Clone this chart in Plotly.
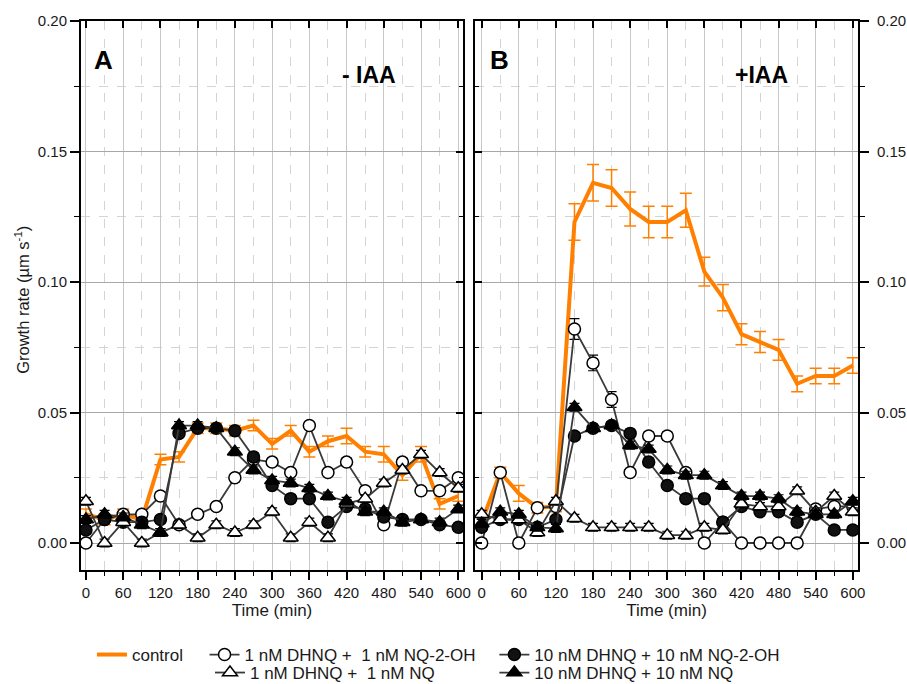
import plotly.graph_objects as go

# ---------------- data ----------------
time_min = [0, 30, 60, 90, 120, 150, 180, 210, 240, 270, 300, 330, 360, 390, 420, 450, 480, 510, 540, 570, 600]
x_tick_vals = [0, 60, 120, 180, 240, 300, 360, 420, 480, 540, 600]
y_tick_vals = [0.0, 0.05, 0.10, 0.15, 0.20]

# Panel A (- IAA)
ctrl_A = [0.011, 0.009, 0.011, 0.009, 0.032, 0.033, 0.044, 0.044, 0.043, 0.045, 0.038, 0.043, 0.035, 0.039, 0.041, 0.035, 0.034, 0.026, 0.034, 0.015, 0.018]
ctrl_A_err = [0.002, 0.002, 0.002, 0.002, 0.002, 0.002, 0.002, 0.002, 0.002, 0.002, 0.002, 0.002, 0.002, 0.002, 0.003, 0.002, 0.003, 0.002, 0.003, 0.002, 0.002]
c1_A = [0.000, 0.009, 0.011, 0.011, 0.018, 0.007, 0.011, 0.014, 0.025, 0.032, 0.031, 0.027, 0.045, 0.027, 0.031, 0.020, 0.007, 0.031, 0.020, 0.020, 0.025]
c10_A = [0.005, 0.009, 0.008, 0.008, 0.009, 0.042, 0.044, 0.044, 0.043, 0.033, 0.022, 0.017, 0.017, 0.008, 0.014, 0.013, 0.010, 0.009, 0.009, 0.007, 0.006]
t1_A = [0.016, 0.000, 0.008, 0.000, 0.004, 0.007, 0.002, 0.007, 0.004, 0.007, 0.012, 0.002, 0.008, 0.002, 0.015, 0.017, 0.023, 0.028, 0.034, 0.027, 0.021]
t10_A = [0.009, 0.011, 0.010, 0.007, 0.004, 0.045, 0.045, 0.044, 0.035, 0.028, 0.024, 0.023, 0.021, 0.018, 0.016, 0.012, 0.012, 0.008, 0.009, 0.008, 0.013]

# Panel B (+IAA)
ctrl_B = [0.008, 0.027, 0.019, 0.0135, 0.014, 0.123, 0.138, 0.136, 0.128, 0.123, 0.123, 0.1275, 0.104, 0.094, 0.080, 0.077, 0.074, 0.061, 0.064, 0.064, 0.068]
ctrl_B_err = [0.002, 0.002, 0.003, 0.002, 0.002, 0.007, 0.007, 0.007, 0.0065, 0.006, 0.006, 0.0065, 0.0055, 0.005, 0.004, 0.004, 0.004, 0.003, 0.003, 0.003, 0.003]
c1_B = [0.000, 0.027, 0.000, 0.0135, 0.014, 0.082, 0.069, 0.055, 0.027, 0.041, 0.041, 0.027, 0.000, 0.008, 0.000, 0.000, 0.000, 0.000, 0.013, 0.014, 0.014]
c1_B_err = [0.0015, 0.0015, 0.0015, 0.0015, 0.0015, 0.004, 0.003, 0.003, 0.0015, 0.0015, 0.0015, 0.0015, 0.0015, 0.0015, 0.0015, 0.0015, 0.0015, 0.0015, 0.0015, 0.0015, 0.0015]
c10_B = [0.006, 0.009, 0.009, 0.006, 0.009, 0.041, 0.044, 0.045, 0.042, 0.031, 0.022, 0.017, 0.017, 0.008, 0.014, 0.012, 0.012, 0.008, 0.011, 0.005, 0.005]
t1_B = [0.011, 0.009, 0.009, 0.004, 0.016, 0.0095, 0.006, 0.006, 0.006, 0.006, 0.003, 0.003, 0.006, 0.005, 0.015, 0.014, 0.014, 0.020, 0.012, 0.018, 0.012]
t10_B = [0.0075, 0.012, 0.011, 0.006, 0.0056, 0.052, 0.044, 0.045, 0.0375, 0.036, 0.028, 0.026, 0.026, 0.022, 0.018, 0.018, 0.017, 0.012, 0.011, 0.011, 0.016]
marker_err = [0.0015, 0.0015, 0.0015, 0.0015, 0.0015, 0.0015, 0.0015, 0.0015, 0.0015, 0.0015, 0.0015, 0.0015, 0.0015, 0.0015, 0.0015, 0.0015, 0.0015, 0.0015, 0.0015, 0.0015, 0.0015]

names = {
    "ctrl": "control",
    "c1": "1 nM DHNQ +\u00a0 1 nM NQ-2-OH",
    "c10": "10 nM DHNQ + 10 nM NQ-2-OH",
    "t1": "1 nM DHNQ +\u00a0 1 nM NQ",
    "t10": "10 nM DHNQ + 10 nM NQ",
}

# ---------------- style ----------------
FONT = "Arial, Liberation Sans, sans-serif"
TXT = "#1a1a1a"
ORANGE = "#ff8000"
LINEGRAY = "#3a3a3a"
X_RANGE_A = [-8.0, 607.6]
X_RANGE_B = [-10.8, 608.4]
Y_RANGE = [-0.01034, 0.2]

fig = go.Figure()


def add_panel(xa, ya, ctrl, ctrl_err, c1, c1_err, c10, t1, t10, show):
    fig.add_trace(go.Scatter(
        x=time_min, y=ctrl, mode="lines", name=names["ctrl"],
        line=dict(color=ORANGE, width=4),
        error_y=dict(type="data", array=ctrl_err, color=ORANGE, thickness=1.5, width=6),
        xaxis=xa, yaxis=ya, showlegend=show, legend="legend"))
    specs = [
        ("c1", c1, c1_err, dict(symbol="circle", color="white"), "legend2"),
        ("c10", c10, marker_err, dict(symbol="circle", color="#111111"), "legend3"),
        ("t1", t1, marker_err, dict(symbol="triangle-up", color="white"), "legend4"),
        ("t10", t10, marker_err, dict(symbol="triangle-up", color="black"), "legend5"),
    ]
    for key, vals, err, mk, lg in specs:
        size = 12 if mk["symbol"] == "circle" else 13
        fig.add_trace(go.Scatter(
            x=time_min, y=vals, mode="lines+markers", name=names[key],
            line=dict(color=LINEGRAY, width=1.8),
            marker=dict(size=size, line=dict(color="black", width=1.5), **mk),
            error_y=dict(type="data", array=err, color="black", thickness=1.2, width=5),
            xaxis=xa, yaxis=ya, showlegend=show, legend=lg))


add_panel("x", "y", ctrl_A, ctrl_A_err, c1_A, marker_err, c10_A, t1_A, t10_A, True)
add_panel("x2", "y2", ctrl_B, ctrl_B_err, c1_B, c1_B_err, c10_B, t1_B, t10_B, False)

# empty traces to activate the overlay (mirror-tick) axes
fig.add_trace(go.Scatter(x=[], y=[], xaxis="x3", yaxis="y3", showlegend=False, hoverinfo="skip"))
fig.add_trace(go.Scatter(x=[], y=[], xaxis="x4", yaxis="y4", showlegend=False, hoverinfo="skip"))

tickfont = dict(family=FONT, size=15, color=TXT)


def base_x(dom, rng, anchor):
    return dict(
        domain=dom, range=rng, anchor=anchor, tickmode="array", tickvals=x_tick_vals,
        ticks="outside", ticklen=8, tickwidth=1.5, tickcolor="black",
        showline=True, linecolor="black", linewidth=2, mirror=True,
        showgrid=True, gridcolor="#c8c8c8", gridwidth=1, zeroline=False,
        tickfont=tickfont,
        title=dict(text="Time (min)", font=dict(family=FONT, size=17, color=TXT), standoff=0),
        minor=dict(dtick=30, tick0=0, ticks="outside", ticklen=4, tickwidth=1.2, tickcolor="black",
                   showgrid=True, gridcolor="#d4d4d4", griddash="dash", gridwidth=1),
    )


def base_y(rng, anchor, side, standoff):
    return dict(
        range=rng, anchor=anchor, side=side, tickmode="array", tickvals=y_tick_vals,
        tickformat=".2f", ticks="outside", ticklen=9, tickwidth=1.5, tickcolor="black",
        showline=True, linecolor="black", linewidth=2, mirror=True,
        showgrid=True, gridcolor="#a8a8a8", gridwidth=1, zeroline=False,
        tickfont=tickfont, domain=[0, 1], ticklabelstandoff=standoff,
        minor=dict(dtick=0.025, tick0=0, ticks="outside", ticklen=5, tickwidth=1.2, tickcolor="black",
                   showgrid=True, gridcolor="#d4d4d4", griddash="dash", gridwidth=1),
    )


def overlay_x(over, rng, anchor):
    return dict(overlaying=over, anchor=anchor, side="top", range=rng, tickmode="array",
                tickvals=x_tick_vals, ticks="inside", ticklen=7, tickwidth=1.5, tickcolor="black",
                showticklabels=False, showgrid=False, showline=False, zeroline=False)


def overlay_y(over, anchor, side):
    return dict(overlaying=over, anchor=anchor, side=side, range=Y_RANGE, tickmode="array",
                tickvals=y_tick_vals, ticks="inside", ticklen=7, tickwidth=1.5, tickcolor="black",
                showticklabels=False, showgrid=False, showline=False, zeroline=False,
                minor=dict(dtick=0.025, tick0=0, ticks="inside", ticklen=4, tickwidth=1.2,
                           tickcolor="black", showgrid=False))


legend_font = dict(family=FONT, size=17, color=TXT)
leg_common = dict(orientation="v", xanchor="left", yanchor="middle", font=legend_font,
                  bgcolor="rgba(0,0,0,0)", borderwidth=0, tracegroupgap=0, itemwidth=30)
ROW1 = -0.1548
ROW2 = -0.1876

fig.update_layout(
    width=907, height=684,
    margin=dict(l=81, r=49, t=21, b=114, autoexpand=False),
    paper_bgcolor="white", plot_bgcolor="white",
    font=dict(family=FONT, size=15, color=TXT),
    xaxis=base_x([0, 0.4916], X_RANGE_A, "y"),
    yaxis=base_y(Y_RANGE, "x", "left", 0),
    xaxis2=base_x([0.5071, 1.0], X_RANGE_B, "y2"),
    yaxis2=base_y(Y_RANGE, "x2", "right", 5),
    xaxis3=overlay_x("x", X_RANGE_A, "y"),
    yaxis3=overlay_y("y", "x", "right"),
    xaxis4=overlay_x("x2", X_RANGE_B, "y2"),
    yaxis4=overlay_y("y2", "x2", "left"),
    legend=dict(x=0.0141, y=ROW1, **leg_common),
    legend2=dict(x=0.159, y=ROW1, **leg_common),
    legend3=dict(x=0.532, y=ROW1, **leg_common),
    legend4=dict(x=0.166, y=ROW2, **leg_common),
    legend5=dict(x=0.532, y=ROW2, **leg_common),
    showlegend=True,
    annotations=[
        dict(text="<b>A</b>", x=0.0296, y=0.929, xref="paper", yref="paper", showarrow=False,
             xanchor="center", yanchor="middle", font=dict(family=FONT, size=26, color="black")),
        dict(text="<b>- IAA</b>", x=0.3705, y=0.9016, xref="paper", yref="paper", showarrow=False,
             xanchor="center", yanchor="middle", font=dict(family=FONT, size=23, color="black")),
        dict(text="<b>B</b>", x=0.539, y=0.929, xref="paper", yref="paper", showarrow=False,
             xanchor="center", yanchor="middle", font=dict(family=FONT, size=26, color="black")),
        dict(text="<b>+IAA</b>", x=0.8755, y=0.9016, xref="paper", yref="paper", showarrow=False,
             xanchor="center", yanchor="middle", font=dict(family=FONT, size=23, color="black")),
        dict(text="Growth rate (µm s<sup>-1</sup>)", x=-0.076, y=0.492, xref="paper", yref="paper",
             showarrow=False, textangle=-90, xanchor="center", yanchor="middle",
             font=dict(family=FONT, size=16.5, color=TXT)),
    ],
)

fig.write_html("out.html")
